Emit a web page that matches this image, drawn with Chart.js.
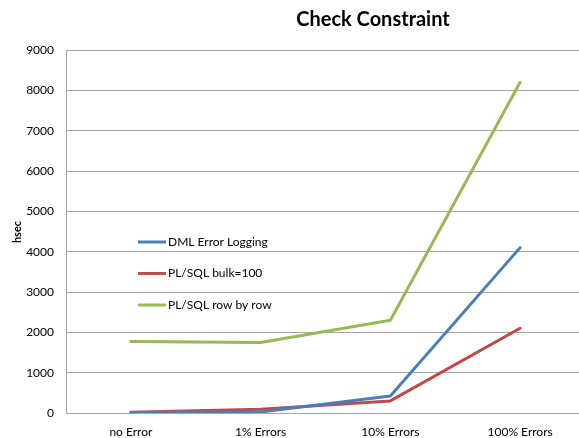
<!DOCTYPE html>
<html>
<head>
<meta charset="utf-8">
<script src="https://cdn.jsdelivr.net/npm/chart.js@4/dist/chart.umd.min.js"></script>
<style>
html,body{margin:0;padding:0;background:#fff;overflow:hidden;width:579px;height:438px;}
#wrap{position:absolute;left:0;top:0;width:586px;height:438px;}
</style>
</head>
<body>
<div id="wrap"><canvas id="c" width="586" height="438"></canvas></div>
<script>
const categories = ["no Error", "1% Errors", "10% Errors", "100% Errors"];
const dmlErrorLogging = [10, 25, 420, 4100];
const plsqlBulk100 = [20, 90, 300, 2100];
const plsqlRowByRow = [1770, 1750, 2300, 8200];
const seriesNames = ["DML Error Logging", "PL/SQL bulk=100", "PL/SQL row by row"];
const yTicks = [0, 1000, 2000, 3000, 4000, 5000, 6000, 7000, 8000, 9000];
const chartTitle = "Check Constraint";
const yTitle = "hsec";

const FONT = "Lato, 'Open Sans', sans-serif";

const overlay = {
  id: 'overlay',
  afterDraw(chart) {
    const ctx = chart.ctx;
    const area = chart.chartArea;
    ctx.save();
    // title
    ctx.fillStyle = '#000';
    ctx.font = "bold 20px " + FONT;
    ctx.textAlign = 'center';
    ctx.textBaseline = 'middle';
    ctx.fillText(chartTitle, 373, 20);
    // y axis title
    ctx.save();
    ctx.translate(17, 232);
    ctx.rotate(-Math.PI / 2);
    ctx.font = "bold 11px " + FONT;
    ctx.fillText(yTitle, 0, 0);
    ctx.restore();
    // legend inside plot
    const x0 = area.left + 72;
    const ys = [242, 273.5, 305];
    ctx.textAlign = 'left';
    ctx.font = "12px " + FONT;
    chart.data.datasets.forEach((ds, i) => {
      const y = ys[i];
      ctx.strokeStyle = ds.borderColor;
      ctx.lineWidth = 3;
      ctx.beginPath();
      ctx.moveTo(x0, y);
      ctx.lineTo(x0 + 28, y);
      ctx.stroke();
      ctx.fillStyle = '#000';
      ctx.fillText(ds.label, x0 + 30, y);
    });
    ctx.restore();
  }
};

new Chart(document.getElementById('c'), {
  type: 'line',
  data: {
    labels: categories,
    datasets: [
      { label: seriesNames[0], data: dmlErrorLogging, borderColor: '#4a7ebb', backgroundColor: '#4a7ebb' },
      { label: seriesNames[1], data: plsqlBulk100, borderColor: '#be4b48', backgroundColor: '#be4b48' },
      { label: seriesNames[2], data: plsqlRowByRow, borderColor: '#98b954', backgroundColor: '#98b954' }
    ]
  },
  options: {
    responsive: false,
    animation: false,
    devicePixelRatio: 1,
    elements: {
      line: { borderWidth: 3, tension: 0, borderCapStyle: 'round', borderJoinStyle: 'round' },
      point: { radius: 0, hoverRadius: 0 }
    },
    layout: { padding: { top: 50, right: 1, left: 0, bottom: 0 } },
    plugins: { legend: { display: false }, title: { display: false }, tooltip: { enabled: false } },
    scales: {
      x: {
        offset: true,
        grid: { display: false, drawTicks: false },
        border: { display: true, color: '#a6a6a6', width: 1 },
        ticks: { color: '#000', font: { family: FONT, size: 12 }, padding: 12, maxRotation: 0 },
        afterFit(s) { s.height = 25; }
      },
      y: {
        min: 0, max: 9000,
        afterBuildTicks(s) { s.ticks = yTicks.map(v => ({ value: v })); },
        grid: { color: '#a6a6a6', drawTicks: false, lineWidth: 1 },
        border: { display: true, color: '#a6a6a6', width: 1 },
        ticks: { color: '#000', font: { family: FONT, size: 12 }, padding: 12, callback: v => String(v) },
        afterFit(s) { s.width = 66; }
      }
    }
  },
  plugins: [overlay]
});
</script>
</body>
</html>
